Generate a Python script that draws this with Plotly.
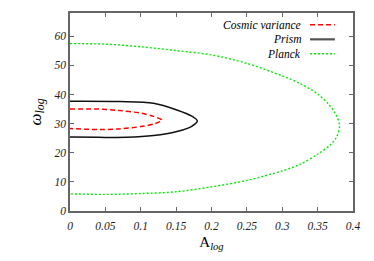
import plotly.graph_objects as go

# Cosmic variance contour
cv_x = [0, 0.04, 0.07, 0.1, 0.118, 0.13, 0.12, 0.1, 0.07, 0.04, 0]
cv_y = [35.0, 35.0, 34.5, 33.6, 32.5, 31.2, 30.0, 29.0, 28.2, 28.0, 28.3]

# Prism contour
pr_x = [0, 0.07, 0.118, 0.151, 0.172, 0.18, 0.172, 0.151, 0.118, 0.08, 0.04, 0]
pr_y = [37.7, 37.6, 37.0, 34.7, 32.6, 30.9, 29.1, 27.3, 25.9, 25.3, 25.3, 25.4]

# Planck contour
pl_x = [0, 0.05, 0.1, 0.15, 0.2, 0.25, 0.3, 0.325, 0.35, 0.365, 0.375, 0.381,
        0.377, 0.368, 0.35, 0.325, 0.3, 0.25, 0.2, 0.15, 0.1, 0.05, 0]
pl_y = [57.5, 57.3, 56.4, 55.1, 53.6, 50.7, 46.4, 43.8, 40.2, 36.8, 33.5, 29.5,
        25.5, 22.7, 19.5, 16.0, 13.8, 10.5, 8.3, 6.6, 6.0, 5.7, 5.9]

x_ticks = [0, 0.05, 0.1, 0.15, 0.2, 0.25, 0.3, 0.35, 0.4]
x_labels = ["0", "0.05", "0.1", "0.15", "0.2", "0.25", "0.3", "0.35", "0.4"]
y_ticks = [0, 10, 20, 30, 40, 50, 60]
y_labels = ["0", "10", "20", "30", "40", "50", "60"]

names = ["Cosmic variance", "Prism", "Planck"]
colors = ["#ff0000", "#111111", "#00ee00"]
dashes = ["5px,3px", "solid", "2px,2px"]
widths = [1.5, 1.5, 1.4]

SERIF = "Liberation Serif, Times New Roman, DejaVu Serif, serif"

fig = go.Figure()
for xs, ys, n, c, d, w in zip([cv_x, pr_x, pl_x], [cv_y, pr_y, pl_y], names, colors, dashes, widths):
    fig.add_trace(go.Scatter(x=xs, y=ys, mode="lines", name=n,
                             line=dict(color=c, dash=d, width=w, shape="spline", smoothing=0.9),
                             showlegend=False, hoverinfo="skip"))

# Legend: text right-aligned, line sample on the right (gnuplot style)
leg_y = [0.941, 0.867, 0.794]
for n, c, d, w, ly in zip(names, colors, dashes, widths, leg_y):
    fig.add_annotation(x=0.823, y=ly, xref="paper", yref="paper", text="<i>" + n + "</i>",
                       showarrow=False, xanchor="right", yanchor="middle",
                       font=dict(family=SERIF, size=11.5, color="#000"))
    fig.add_shape(type="line", xref="paper", yref="paper", x0=0.848, x1=0.936, y0=ly, y1=ly,
                  line=dict(color="#555555" if n == "Prism" else c, dash=d,
                            width=2.2 if n == "Prism" else w))

tickfont = dict(family=SERIF, size=11.5, color="#222", style="italic")
fig.update_layout(
    width=374, height=261,
    margin=dict(l=70, r=21, t=13, b=50),
    paper_bgcolor="white", plot_bgcolor="white",
    xaxis=dict(range=[0, 0.4], tickvals=x_ticks, ticktext=x_labels, ticks="inside", ticklen=4,
               mirror="ticks", showline=True, linecolor="#666", linewidth=1.5, showgrid=False,
               zeroline=False, tickfont=tickfont, tickcolor="#666", automargin=False,
               ticklabelstandoff=3,
               title=dict(text="A<sub><i>log</i></sub>", standoff=6,
                          font=dict(family=SERIF, size=15, color="#000"))),
    yaxis=dict(range=[0, 68], tickvals=y_ticks, ticktext=y_labels, ticks="inside", ticklen=4,
               mirror="ticks", showline=True, linecolor="#666", linewidth=1.5, showgrid=False,
               zeroline=False, tickfont=tickfont, tickcolor="#666", automargin=False,
               title=dict(text="<i>ω</i><sub><i>log</i></sub>", standoff=8,
                          font=dict(family=SERIF, size=17, color="#000"))),
)
fig.write_html("out.html", config={"displayModeBar": False},
               post_script="document.body.style.margin='0';document.body.style.overflow='hidden';")
